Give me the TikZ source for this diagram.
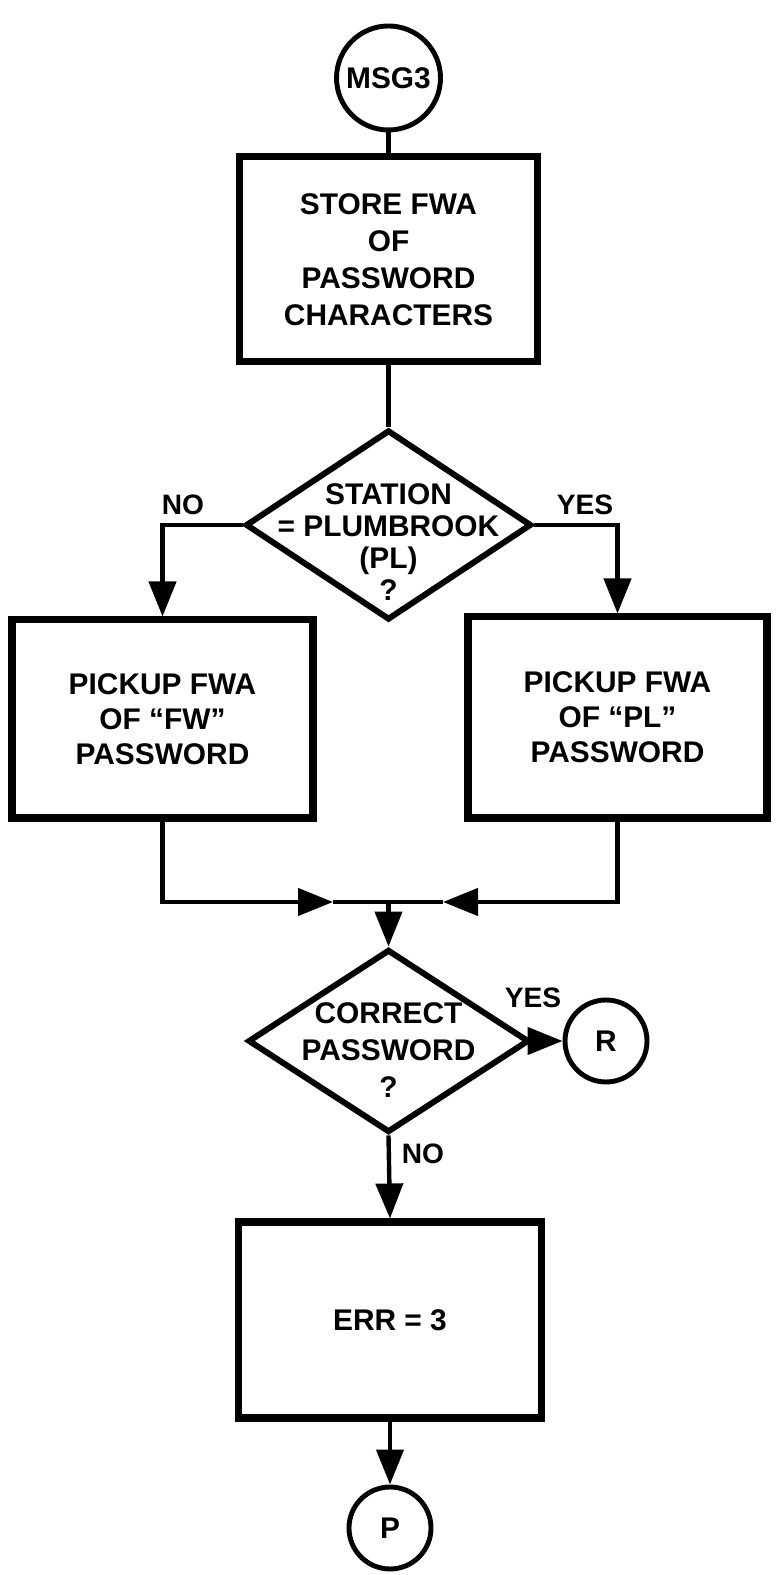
\documentclass[tikz,border=0pt]{standalone}
\usepackage{fontspec}
\setmainfont{Liberation Sans}
\usepackage{tikz}
\usetikzlibrary{shapes.geometric,arrows.meta}
\tikzset{>={Triangle[length=7mm, width=5.4mm]},
    block/.style={draw, line width=4pt, minimum width=6cm, minimum height=3.96cm, align=center, inner sep=0pt},
    decision/.style={draw, diamond, line width=3.4pt, inner sep=0pt},
    terminal/.style={draw, circle, line width=2.8pt, minimum size=1.64cm, inner sep=0pt},
    flow/.style={line width=2.5pt},
    tag/.style={font=\bfseries\fontsize{16}{19}\selectfont}}

\begin{document}
\begin{tikzpicture}[font=\bfseries\fontsize{17}{20}\selectfont]
    \useasboundingbox (0,0) rectangle (15.5,31.5);
    \node[terminal, minimum size=2.08cm] (msg) at (7.77, 29.94) {MSG3};
    \node[block, minimum width=5.96cm, minimum height=4.1cm, font=\bfseries\fontsize{17}{21}\selectfont] (store) at (7.77, 26.31) {STORE FWA\\OF\\PASSWORD\\CHARACTERS};
    \node[decision, minimum width=5.72cm, minimum height=3.8cm] (dia1) at (7.77, 21.0) {};
    \node[align=center, font=\bfseries\fontsize{17}{18.2}\selectfont, yshift=-0.34cm] at (dia1) {STATION\\= PLUMBROOK\\(PL)\\?};
    \node[tag] (no1) at (3.66, 21.4) {NO};
    \node[tag] (yes1) at (11.7, 21.4) {YES};
    \node[block, minimum width=6.02cm] (fw) at (3.25, 17.12) {PICKUP FWA\\OF ``FW''\\PASSWORD};
    \node[block, minimum width=5.98cm, minimum height=4.02cm] (pl) at (12.35, 17.15) {PICKUP FWA\\OF ``PL''\\PASSWORD};
    \coordinate (join) at (7.77, 13.46);
    \coordinate (lmid) at (6.66, 13.46);
    \coordinate (rmid) at (8.86, 13.46);
    \node[decision, minimum width=5.62cm, minimum height=3.66cm] (dia2) at (7.77, 10.68) {};
    \node[align=center, font=\bfseries\fontsize{17}{21}\selectfont, yshift=-0.18cm] at (dia2) {CORRECT\\PASSWORD\\?};
    \node[terminal] (r) at (12.12, 10.68) {R};
    \node[tag] (yes2) at (10.66, 11.54) {YES};
    \node[tag] (no2) at (8.46, 8.42) {NO};
    \node[block, minimum width=6.06cm, minimum height=3.92cm] (err) at (7.8, 5.1) {ERR = 3};
    \node[terminal] (p) at (7.8, 0.94) {P};
    \draw[flow] (msg) -- (store);
    \draw[flow] (store) -- (dia1);
    \draw[flow, ->] (dia1.west) -| (fw.north);
    \draw[flow, ->] (dia1.east) -| (pl.north);
    \draw[flow, ->] (fw.south) |- (lmid);
    \draw[flow] (lmid) -- (join);
    \draw[flow, ->] (pl.south) |- (rmid);
    \draw[flow] (rmid) -- (join);
    \draw[flow, ->] (join) -- (dia2.north);
    \draw[flow, ->] (dia2.east) -- (r);
    \draw[flow, ->] (dia2.south) -- (err.north);
    \draw[flow, ->] (err.south) -- (p);
\end{tikzpicture}
\end{document}
